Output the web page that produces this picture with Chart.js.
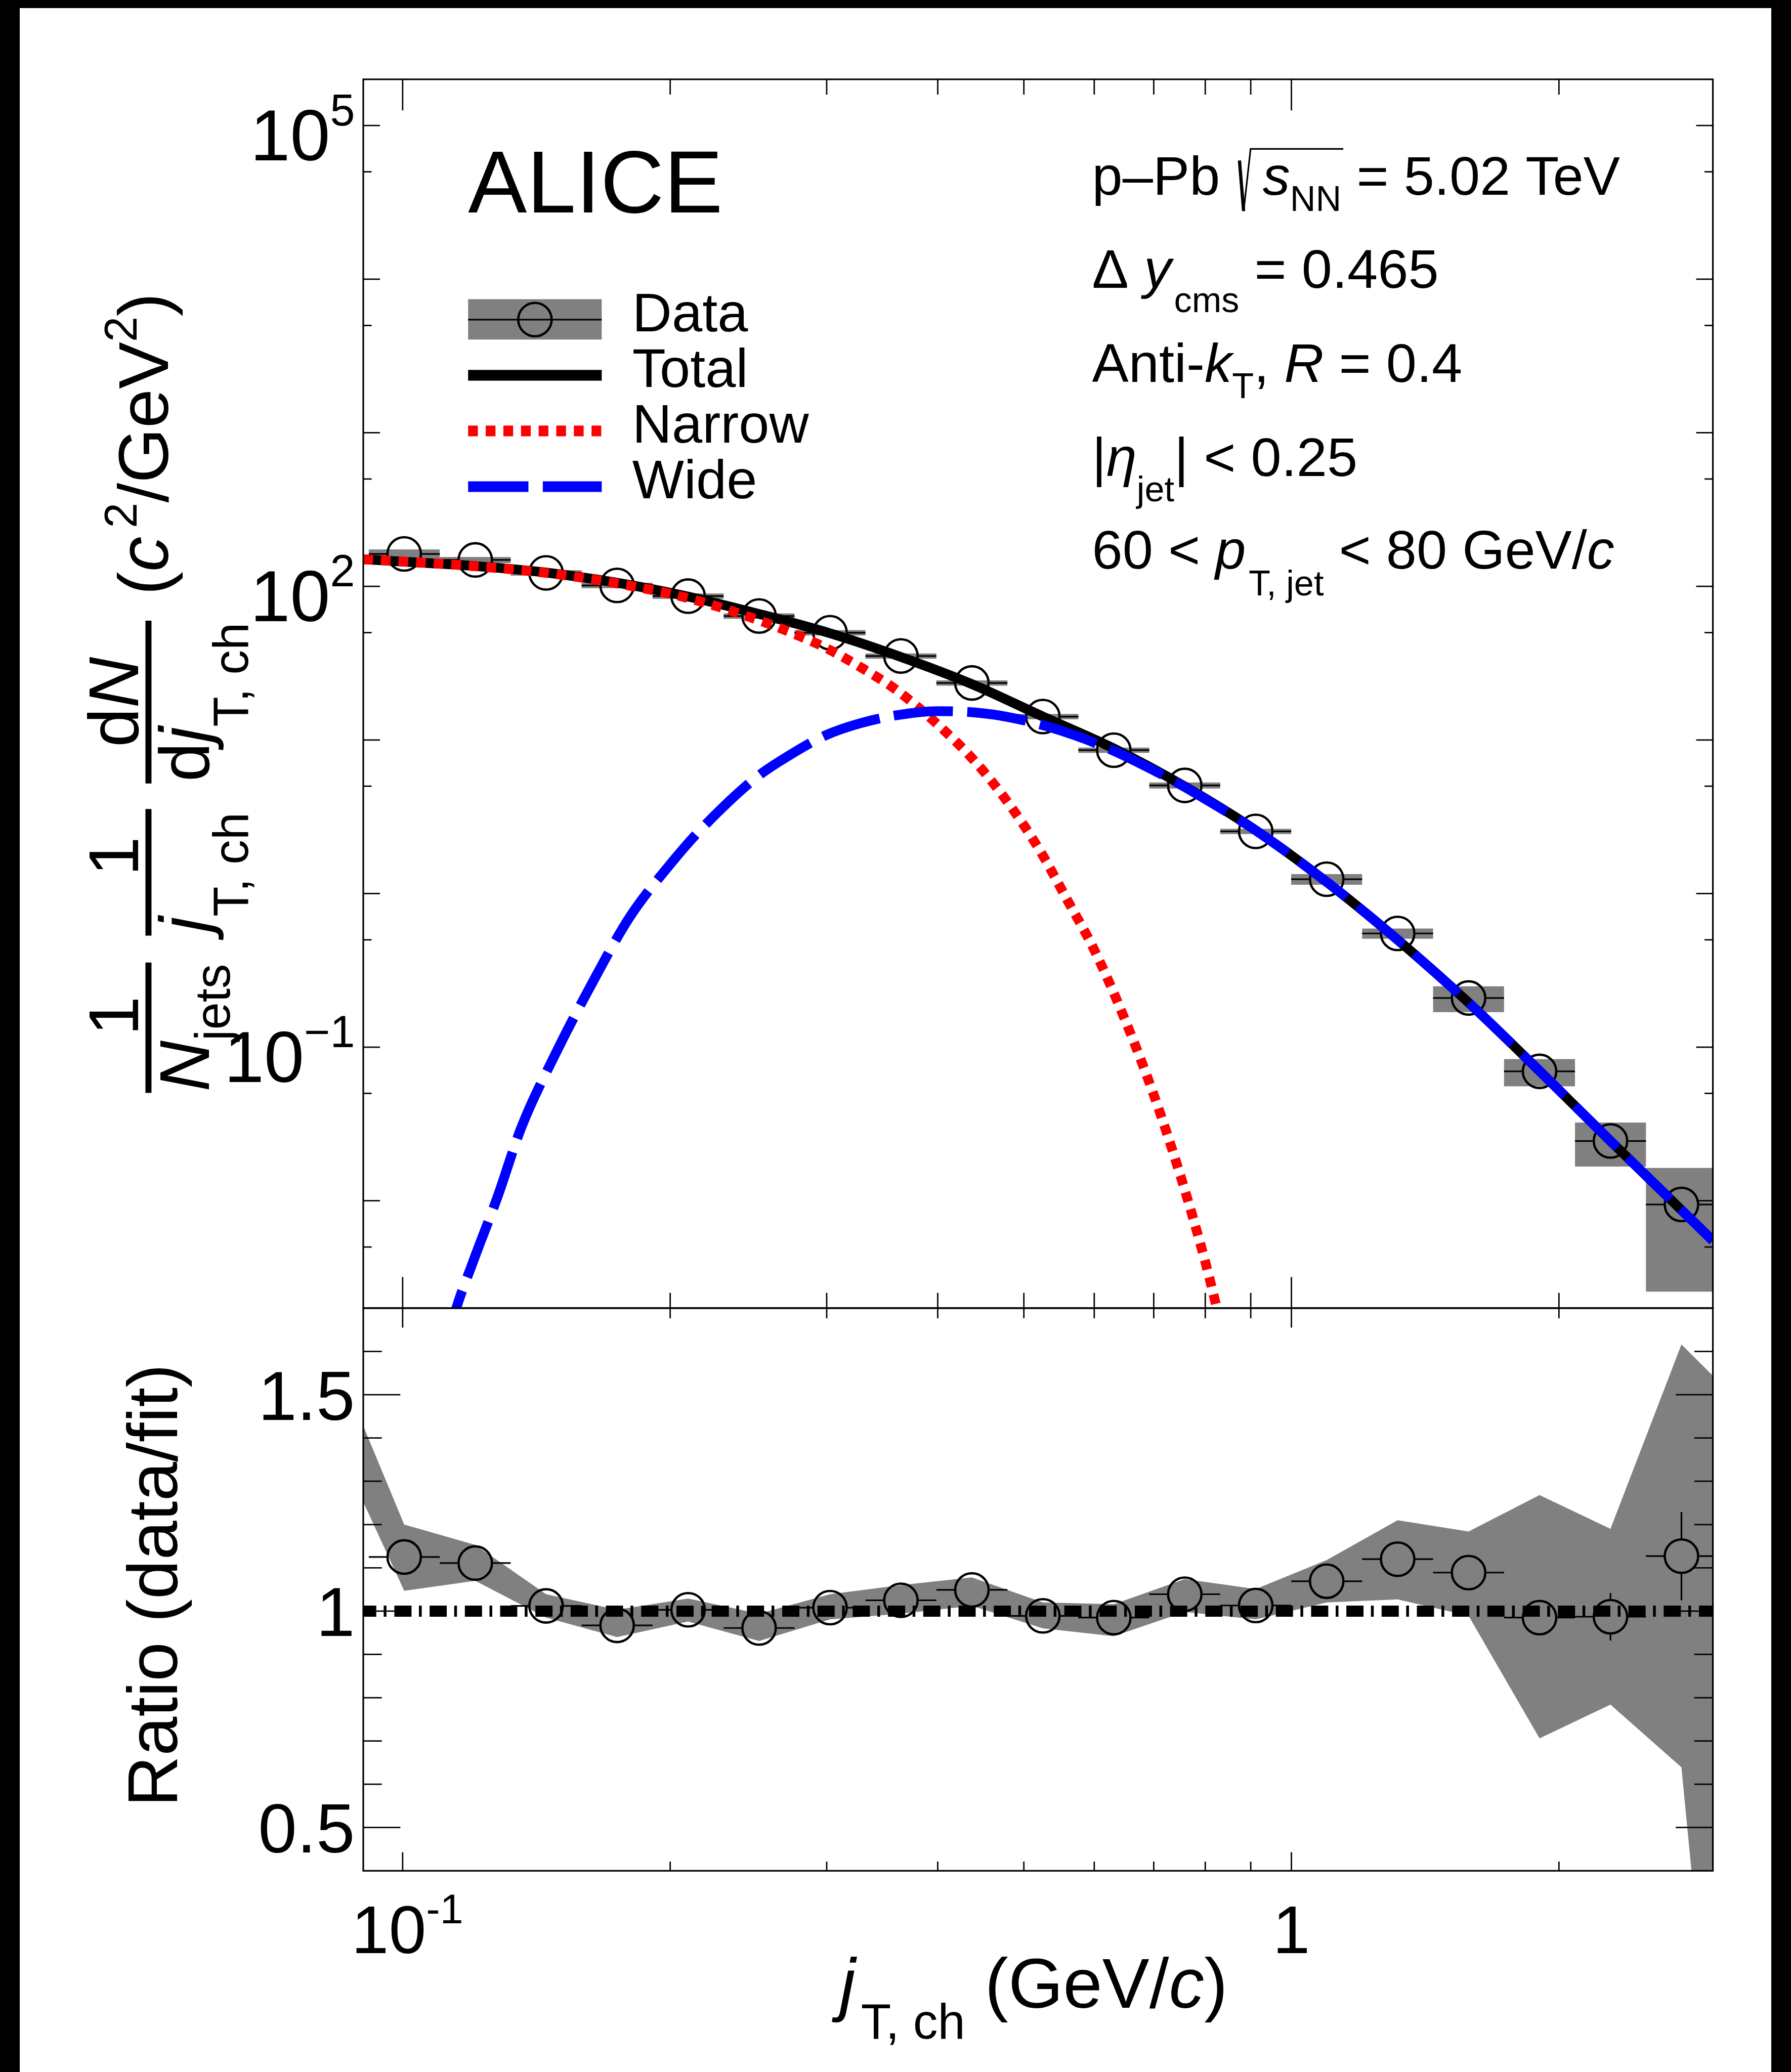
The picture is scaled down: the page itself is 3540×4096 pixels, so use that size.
<!DOCTYPE html>
<html lang="en">
<head>
  <meta charset="UTF-8" />
  <title>ALICE jT,ch distribution, p–Pb 5.02 TeV</title>
  <script src="https://cdn.jsdelivr.net/npm/chart.js"></script>
  <style>
    html, body { margin: 0; padding: 0; background: #fff; }
    body { position: relative; width: 3540px; height: 4096px; overflow: hidden; }
    canvas { position: absolute; left: 0; top: 0; }
    .edge { position: absolute; background: #000; }
  </style>
</head>
<body>
  <canvas id="upper" width="3540" height="4096"></canvas>
  <canvas id="lower" width="3540" height="4096"></canvas>
  <div class="edge" style="left:0;top:0;width:3540px;height:16px"></div>
  <div class="edge" style="right:0;top:0;width:39px;height:4096px"></div>
  <div class="edge" style="left:0;top:0;width:39px;height:4096px"></div>

  <script>
    // everything is laid out in reference pixels and scaled down by S
    const S = 0.917;
    const GRAY = '#808080';
    const FAM = '"Liberation Sans", Arial, Helvetica, sans-serif';

    // ---- data ----
    const jT = [0.1004, 0.1207, 0.1450, 0.1743, 0.2095, 0.2518, 0.3026, 0.3636, 0.4370, 0.5252,
                0.6312, 0.7586, 0.9117, 1.0957, 1.3168, 1.5825, 1.9019, 2.2857, 2.7470];
    const binEdges = [0.0916, 0.1101, 0.1323, 0.1590, 0.1911, 0.2297, 0.2760, 0.3317, 0.3986, 0.4791,
                      0.5758, 0.6920, 0.8316, 0.9994, 1.2011, 1.4435, 1.7348, 2.0849, 2.5056, 3.0112];
    const yields = [162.6, 148.6, 122.4, 101.4, 86.4, 64.1, 49.9, 35.2, 23.5, 14.2,
                    8.58, 5.06, 2.54, 1.24, 0.550, 0.209, 0.0696, 0.0245, 0.00946];
    const yieldSys = [11.4, 6.7, 4.9, 4.1, 3.5, 2.6, 2.0, 1.4, 0.94, 0.57,
                      0.34, 0.23, 0.10, 0.099, 0.042, 0.040, 0.014, 0.0078, 0.0069];

    const ratio = [1.125, 1.111, 1.012, 0.967, 1.003, 0.961, 1.008, 1.025, 1.049, 0.989,
                   0.985, 1.039, 1.013, 1.069, 1.120, 1.089, 0.985, 0.987, 1.127];
    const ratioStat = [0.010, 0.010, 0.010, 0.010, 0.010, 0.010, 0.010, 0.010, 0.012, 0.012,
                       0.012, 0.015, 0.015, 0.020, 0.020, 0.025, 0.040, 0.055, 0.102];
    const bandX = [0.0903, 0.1004, 0.1207, 0.1450, 0.1743, 0.2095, 0.2518, 0.3026, 0.3636, 0.4370, 0.5252,
                   0.6312, 0.7586, 0.9117, 1.0957, 1.3168, 1.5825, 1.9019, 2.2857, 2.7470, 2.98];
    const bandHi = [1.428, 1.200, 1.153, 1.039, 1.003, 1.029, 0.994, 1.039, 1.060, 1.078, 1.020,
                    1.016, 1.074, 1.051, 1.118, 1.210, 1.184, 1.268, 1.190, 1.616, 1.544];
    const bandLo = [1.252, 1.047, 1.070, 0.985, 0.940, 0.976, 0.931, 0.981, 0.994, 1.012, 0.960,
                    0.942, 0.998, 0.981, 1.020, 1.027, 0.989, 0.706, 0.784, 0.639, -0.11];
    const unityX = [0.0903, 2.98];
    const unityY = [1, 1];

    const totalX = [0.0903, 0.1004, 0.1207, 0.1450, 0.1743, 0.2095, 0.2518, 0.3026, 0.3636, 0.4370, 0.5252,
                    0.6312, 0.7586, 0.9117, 1.0957, 1.3168, 1.5825, 1.9019, 2.2857, 2.7470, 2.98];
    const totalY = [150, 144.7, 135.6, 123, 105.5, 85.8, 66.1, 49.5, 34.7, 23.1, 14.2,
                    8.8, 4.98, 2.58, 1.19, 0.50, 0.195, 0.070, 0.0245, 0.0087, 0.0055];
    const narrowX = [0.0903, 0.1, 0.12, 0.15, 0.18, 0.21, 0.25, 0.28, 0.3, 0.33, 0.36,
                     0.4, 0.44, 0.48, 0.52, 0.56, 0.6, 0.65, 0.7, 0.75, 0.8, 0.83];
    const narrowY = [150, 145.3, 135.5, 119.4, 101, 83.5, 61, 47.3, 39.5, 29, 21,
                     12.6, 7.3, 3.9, 1.95, 0.9, 0.43, 0.15, 0.049, 0.0146, 0.0040, 0.0017];
    const wideX = [0.112, 0.1143, 0.12, 0.1278, 0.136, 0.1485, 0.165, 0.18, 0.2, 0.2163, 0.25,
                   0.2748, 0.3, 0.3265, 0.36, 0.4, 0.44, 0.48, 0.535, 0.615, 0.723, 0.8,
                   0.9117, 1.0957, 1.3168, 1.5825, 1.9019, 2.2857, 2.7470, 2.98];
    const wideY = [0.0011, 0.0018, 0.0040, 0.0105, 0.030, 0.090, 0.29, 0.70, 1.55, 2.6, 5.7,
                   8.2, 10.8, 12.8, 14.5, 15.4, 15.1, 14.1, 12.1, 9.07, 5.75, 4.12,
                   2.58, 1.19, 0.50, 0.195, 0.070, 0.0245, 0.0087, 0.0055];

    // ---- axes ----
    const yTicksMajor = [1e-2, 1e-1, 1, 10, 100, 1e3, 1e4, 1e5];
    const yTicksMinor = [5e-3, 5e-2, 0.5, 5, 50, 500, 5e3, 5e4];
    const yLabelVals = [1e5, 1e2, 1e-1];
    const yLabelExps = ['5', '2', '\u22121'];
    const xTicksMajor = [0.1, 1];
    const xTicksMinor = [0.2, 0.3, 0.4, 0.5, 0.6, 0.7, 0.8, 0.9, 2];
    const xLabelVals = [0.1, 1];
    const rTicksMajor = [0.5, 1, 1.5];
    const rTicksMinor = [0.6, 0.7, 0.8, 0.9, 1.1, 1.2, 1.3, 1.4, 1.6];
    const rLabels = ['0.5', '1', '1.5'];
    const legendLabels = ['Data', 'Total', 'Narrow', 'Wide'];

    // frame in reference pixels
    const FR = { l: 783, r: 3692, top: 171, mid: 2820, bot: 4033 };
    const MARK_R = 36;

    const pts = (xs, ys) => xs.map((x, i) => ({ x, y: ys[i] }));

    function setFont(ctx, px, it) {
      ctx.font = (it ? 'italic ' : '') + px + 'px ' + FAM;
    }
    function richWidth(ctx, segs, size) {
      let w = 0;
      segs.forEach(g => { setFont(ctx, size * (g.s || 1), g.it); w += ctx.measureText(g.t).width + (g.pad || 0); });
      return w;
    }
    // draws a row of text pieces (italic / sub / superscript), returns the end x
    function rich(ctx, segs, x, y, size, align) {
      let cx = x;
      if (align === 'right') cx -= richWidth(ctx, segs, size);
      if (align === 'center') cx -= richWidth(ctx, segs, size) / 2;
      ctx.textAlign = 'left';
      ctx.textBaseline = 'alphabetic';
      segs.forEach(g => {
        setFont(ctx, size * (g.s || 1), g.it);
        ctx.fillText(g.t, cx, y + (g.dy || 0));
        cx += ctx.measureText(g.t).width + (g.pad || 0);
      });
      return cx;
    }

    function drawAxes(chart, t) {
      const { ctx, chartArea: a, scales: { x, y } } = chart;
      ctx.save();
      ctx.strokeStyle = '#000';
      ctx.lineCap = 'butt';
      ctx.lineWidth = 3 * S;
      ctx.beginPath();
      const seg = (x0, y0, x1, y1) => { ctx.moveTo(x0, y0); ctx.lineTo(x1, y1); };
      const yt = (vals, len) => vals.forEach(v => {
        const p = y.getPixelForValue(v);
        seg(a.left, p, a.left + len * S, p);
        seg(a.right, p, a.right - len * S, p);
      });
      const xt = (vals, lb, lt) => vals.forEach(v => {
        const p = x.getPixelForValue(v);
        seg(p, a.bottom, p, a.bottom - lb * S);
        seg(p, a.top, p, a.top + lt * S);
      });
      yt(t.yMajor, t.yMaj); yt(t.yMinor, t.yMin);
      xt(xTicksMajor, t.xMajB, t.xMajT); xt(xTicksMinor, t.xMinB, t.xMinT);
      ctx.stroke();
      ctx.lineWidth = 3.5 * S;
      ctx.strokeRect(a.left, a.top, a.right - a.left, a.bottom - a.top);
      ctx.restore();
    }

    function drawErrors(chart, yv, stat) {
      const { ctx, chartArea: a, scales: { x, y } } = chart;
      const R = MARK_R * S;
      ctx.save();
      ctx.beginPath();
      ctx.rect(a.left, a.top, a.right - a.left, a.bottom - a.top);
      ctx.clip();
      ctx.strokeStyle = '#000';
      ctx.lineWidth = 3.5 * S;
      ctx.beginPath();
      jT.forEach((v, i) => {
        const cx = x.getPixelForValue(v), cy = y.getPixelForValue(yv[i]);
        const xl = x.getPixelForValue(binEdges[i]), xr = x.getPixelForValue(binEdges[i + 1]);
        if (cx - R > xl) { ctx.moveTo(xl, cy); ctx.lineTo(cx - R, cy); }
        if (xr > cx + R) { ctx.moveTo(cx + R, cy); ctx.lineTo(xr, cy); }
        if (stat) {
          const yt = y.getPixelForValue(yv[i] + stat[i]), yb = y.getPixelForValue(yv[i] - stat[i]);
          if (cy - yt > R) { ctx.moveTo(cx, cy - R); ctx.lineTo(cx, yt); }
          if (yb - cy > R) { ctx.moveTo(cx, cy + R); ctx.lineTo(cx, yb); }
        }
      });
      ctx.stroke();
      ctx.restore();
    }

    const upperDecor = {
      id: 'upperDecor',
      beforeDatasetsDraw(chart) {
        const { ctx, chartArea: a, scales: { x, y } } = chart;
        ctx.save();
        ctx.beginPath();
        ctx.rect(a.left, a.top, a.right - a.left, a.bottom - a.top);
        ctx.clip();
        ctx.fillStyle = GRAY;
        jT.forEach((v, i) => {
          const x0 = x.getPixelForValue(binEdges[i]), x1 = x.getPixelForValue(binEdges[i + 1]);
          const y0 = y.getPixelForValue(yields[i] + yieldSys[i]), y1 = y.getPixelForValue(yields[i] - yieldSys[i]);
          ctx.fillRect(x0, y0, x1 - x0, y1 - y0);
        });
        ctx.restore();
        drawErrors(chart, yields, null);
      },
      afterDraw(chart) {
        drawAxes(chart, { yMajor: yTicksMajor, yMinor: yTicksMinor, yMaj: 36, yMin: 18,
                          xMajB: 67, xMajT: 67, xMinB: 33, xMinT: 33 });
        const ctx = chart.ctx;
        const ys = chart.scales.y;
        ctx.save();
        ctx.scale(S, S);
        ctx.fillStyle = '#000';

        // y tick labels
        yLabelVals.forEach((v, i) => {
          const py = ys.getPixelForValue(v) / S;
          rich(ctx, [{ t: '10' }, { t: yLabelExps[i], s: 0.62, dy: -75 }], 765, py + 75, 155, 'right');
        });

        rich(ctx, [{ t: 'ALICE' }], 1009, 458, 190);

        // legend
        const L0 = 1009, L1 = 1297;
        ctx.fillStyle = GRAY;
        ctx.fillRect(L0, 645, L1 - L0, 87);
        ctx.strokeStyle = '#000';
        ctx.lineWidth = 3.5;
        ctx.beginPath(); ctx.moveTo(L0, 689); ctx.lineTo(L1, 689); ctx.stroke();
        ctx.lineWidth = 5;
        ctx.beginPath(); ctx.arc(1153, 689, MARK_R, 0, 2 * Math.PI); ctx.stroke();
        ctx.lineCap = 'butt';
        ctx.lineWidth = 23;
        const legLine = (yy, col, dash) => {
          ctx.strokeStyle = col; ctx.setLineDash(dash);
          ctx.beginPath(); ctx.moveTo(L0, yy); ctx.lineTo(L1, yy); ctx.stroke();
        };
        legLine(809, '#000', []);
        legLine(929, '#ff0000', [21, 17]);
        legLine(1049, '#0000ff', [130, 31]);
        ctx.setLineDash([]);
        ctx.fillStyle = '#000';
        legendLabels.forEach((t, i) => rich(ctx, [{ t }], 1363, 714 + 120 * i, 118));

        // system annotations
        const AX = 2354, F = 118;
        let ex = rich(ctx, [{ t: 'p\u2013Pb' }], AX, 420, F);
        const rx = ex + 42;
        ctx.strokeStyle = '#000';
        ctx.lineWidth = 7;
        ctx.beginPath(); ctx.moveTo(rx, 420 - 74); ctx.lineTo(rx + 9, 420 + 35); ctx.stroke();
        ctx.lineWidth = 3.5;
        ctx.beginPath(); ctx.moveTo(rx + 9, 420 + 35); ctx.lineTo(rx + 24, 420 - 99);
        ex = rich(ctx, [{ t: 's', it: true }, { t: 'NN', s: 0.65, dy: 35 }], rx + 50, 420, F);
        ctx.lineTo(ex + 4, 420 - 99); ctx.stroke();
        rich(ctx, [{ t: ' = 5.02 TeV' }], ex, 420, F);
        rich(ctx, [{ t: '\u0394 ' }, { t: 'y', it: true, pad: 6 }, { t: 'cms', s: 0.65, dy: 52 },
                   { t: ' = 0.465' }], AX, 621, F);
        rich(ctx, [{ t: 'Anti-' }, { t: 'k', it: true }, { t: 'T', s: 0.65, dy: 35 }, { t: ', ' },
                   { t: 'R', it: true }, { t: ' = 0.4' }], AX, 823, F);
        rich(ctx, [{ t: '|' }, { t: '\u03b7', it: true }, { t: 'jet', s: 0.65, dy: 55 },
                   { t: '| < 0.25' }], AX, 1026, F);
        rich(ctx, [{ t: '60 < ' }, { t: 'p', it: true, pad: 6 }, { t: 'T, jet', s: 0.65, dy: 58 },
                   { t: ' < 80 GeV/' }, { t: 'c', it: true }], AX, 1226, F);

        // rotated y title: screen (X, Y) -> local (-Y, X)
        ctx.rotate(-Math.PI / 2);
        const T = 152, SB = 0.7;
        const bars = [[2356, 2075], [2017, 1744], [1689, 1338]];
        bars.forEach(([y0, y1]) => ctx.fillRect(-y0, 320 - 6.5, y0 - y1, 13));
        const mid = b => -(b[0] + b[1]) / 2;
        rich(ctx, [{ t: '1' }], -2190, 298, T, 'center');
        rich(ctx, [{ t: '1' }], -1846, 298, T, 'center');
        rich(ctx, [{ t: 'd' }, { t: 'N', it: true }], mid(bars[2]), 298, T, 'center');
        rich(ctx, [{ t: 'N', it: true }, { t: 'jets', s: SB, dy: 45 }], mid(bars[0]), 450, T, 'center');
        rich(ctx, [{ t: 'j', it: true }, { t: 'T, ch', s: SB, dy: 84 }], mid(bars[1]), 450, T, 'center');
        rich(ctx, [{ t: 'd' }, { t: 'j', it: true }, { t: 'T, ch', s: SB, dy: 84 }], mid(bars[2]), 450, T, 'center');
        rich(ctx, [{ t: '(' }, { t: 'c', it: true, pad: 18 }, { t: '2', s: 0.65, dy: -68 },
                   { t: '/GeV' }, { t: '2', s: 0.65, dy: -68 }, { t: ')' }], -1283, 362, T);
        ctx.restore();
      }
    };

    const lowerDecor = {
      id: 'lowerDecor',
      afterDatasetDraw(chart, args) {
        if (args.index === 1) drawErrors(chart, ratio, ratioStat);
      },
      afterDraw(chart) {
        drawAxes(chart, { yMajor: rTicksMajor, yMinor: rTicksMinor, yMaj: 80, yMin: 40,
                          xMajB: 40, xMajT: 42, xMinB: 20, xMinT: 22 });
        const ctx = chart.ctx;
        const { x, y } = chart.scales;
        ctx.save();
        ctx.scale(S, S);
        ctx.fillStyle = '#000';
        rTicksMajor.forEach((v, i) => {
          rich(ctx, [{ t: rLabels[i] }], 765, y.getPixelForValue(v) / S + 54, 150, 'right');
        });
        const xl = [[{ t: '10' }, { t: '-1', s: 0.62, dy: -64 }], [{ t: '1' }]];
        xLabelVals.forEach((v, i) => {
          rich(ctx, xl[i], x.getPixelForValue(v) / S + (i === 0 ? 10 : 0), 4210, 145, 'center');
        });
        rich(ctx, [{ t: 'j', it: true, pad: 12 }, { t: 'T, ch', s: 0.7, dy: 67 }, { t: ' (GeV/' },
                   { t: 'c', it: true }, { t: ')' }], 1810, 4328, 152);
        ctx.rotate(-Math.PI / 2);
        rich(ctx, [{ t: 'Ratio (data/fit)' }], -3895, 382, 152);
        ctx.restore();
      }
    };

    const common = {
      responsive: false,
      animation: false,
      events: [],
      plugins: { legend: { display: false }, tooltip: { enabled: false } }
    };
    const curve = (label, xs, ys, color, dash, order) => ({
      label, data: pts(xs, ys), borderColor: color, borderWidth: 21 * S, borderDash: dash,
      borderCapStyle: 'butt', pointRadius: 0, pointHoverRadius: 0,
      cubicInterpolationMode: 'monotone', clip: 0, order
    });
    const markers = (label, ys, order) => ({
      label, data: pts(jT, ys), showLine: false, pointStyle: 'circle',
      pointRadius: MARK_R * S, pointHoverRadius: MARK_R * S, pointBorderWidth: 5 * S,
      pointBorderColor: '#000', pointBackgroundColor: 'rgba(0,0,0,0)', order
    });

    new Chart(document.getElementById('upper'), {
      type: 'line',
      data: {
        datasets: [
          curve('Wide', wideX, wideY, '#0000ff', [128 * S, 31 * S], 0),
          curve('Narrow', narrowX, narrowY, '#ff0000', [21 * S, 17 * S], 1),
          curve('Total', totalX, totalY, '#000000', [], 2),
          markers('Data', yields, 3)
        ]
      },
      options: Object.assign({}, common, {
        layout: { padding: { left: FR.l * S, top: FR.top * S, right: 3540 - FR.r * S, bottom: 4096 - FR.mid * S } },
        scales: {
          x: { type: 'logarithmic', min: 0.0903, max: 2.98, display: false },
          y: { type: 'logarithmic', min: 2e-3, max: 2e5, display: false }
        }
      }),
      plugins: [upperDecor]
    });

    new Chart(document.getElementById('lower'), {
      type: 'line',
      data: {
        datasets: [
          { label: 'Fit', data: pts(unityX, unityY), borderColor: '#000', borderWidth: 24 * S,
            borderDash: [37 * S, 16 * S, 6 * S, 17 * S], borderDashOffset: 9 * S, borderCapStyle: 'butt',
            pointRadius: 0, pointHoverRadius: 0, clip: 0, order: 0 },
          markers('Ratio', ratio, 1),
          { label: 'Syst hi', data: pts(bandX, bandHi), fill: '+1', backgroundColor: GRAY,
            borderColor: 'rgba(0,0,0,0)', borderWidth: 0, pointRadius: 0, tension: 0, order: 2 },
          { label: 'Syst lo', data: pts(bandX, bandLo), fill: false,
            borderColor: 'rgba(0,0,0,0)', borderWidth: 0, pointRadius: 0, tension: 0, order: 3 }
        ]
      },
      options: Object.assign({}, common, {
        layout: { padding: { left: FR.l * S, top: FR.mid * S, right: 3540 - FR.r * S, bottom: 4096 - FR.bot * S } },
        scales: {
          x: { type: 'logarithmic', min: 0.0903, max: 2.98, display: false },
          y: { type: 'linear', min: 0.4, max: 1.7, display: false }
        }
      }),
      plugins: [lowerDecor]
    });
  </script>
</body>
</html>
